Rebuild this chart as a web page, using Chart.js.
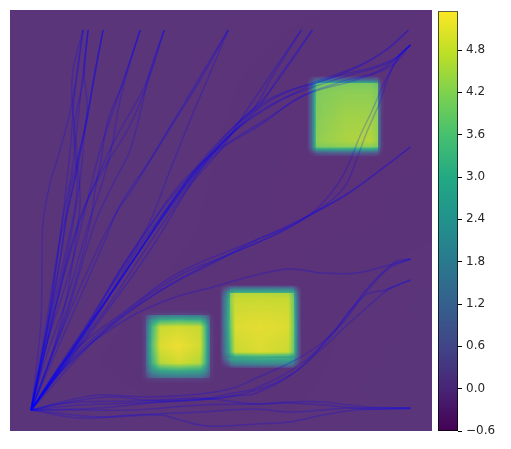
<!DOCTYPE html>
<html>
<head>
<meta charset="utf-8">
<title>Field and paths</title>
<script src="https://cdn.jsdelivr.net/npm/chart.js@4"></script>
<style>
    html, body { margin: 0; padding: 0; background: #fff; }
    #wrap { position: relative; width: 511px; height: 449px; overflow: hidden; }
    canvas { position: absolute; left: 0; top: 0; }
</style>
</head>
<body>
<div id="wrap">
    <canvas id="fieldChart" width="511" height="449"></canvas>
    <canvas id="barChart" width="511" height="449"></canvas>
</div>
<script>
// ==========================================
// 1. DATA
// ==========================================
const colorbarTicks = [-0.6, 0, 0.6, 1.2, 1.8, 2.4, 3.0, 3.6, 4.2, 4.8];
const colorMin = -0.6;
const colorMax = 5.35;

const viridis = [
    [68, 1, 84], [72, 36, 117], [65, 68, 135], [53, 95, 141], [42, 120, 142],
    [33, 145, 140], [34, 168, 132], [68, 191, 112], [122, 209, 81], [189, 223, 38], [253, 231, 37]
];

// background, coarse grid, rows from bottom to top
const bgXs = [0, 70, 140, 210, 280, 350, 421];
const bgYs = [0, 70, 140, 210, 280, 350, 421];
const bgField = [
    [0.06, 0.06, 0.04, 0.03, 0.03, 0.05, 0.06],
    [0.06, 0.03, 0.00, 0.00, 0.00, 0.04, 0.06],
    [0.06, 0.05, 0.02, 0.00, 0.00, 0.02, 0.05],
    [0.06, 0.06, 0.05, 0.01, 0.00, 0.00, 0.01],
    [0.06, 0.06, 0.06, 0.02, 0.00, 0.00, 0.00],
    [0.06, 0.06, 0.06, 0.03, 0.00, 0.00, 0.00],
    [0.06, 0.06, 0.06, 0.05, 0.03, 0.01, 0.00]
];

// lower left square
const squareAXs = [131, 135.9, 136, 142, 150, 168, 190, 195, 200, 200.1, 205];
const squareAYs = [48, 52.9, 53, 60, 68, 85, 104, 110, 116, 116.1, 121];
const squareA = [
    [0, 0, 0, 0, 0, 0, 0, 0, 0, 0, 0],
    [0, .1, .2, .3, .4, .4, .4, .3, .2, .1, 0],
    [0, .2, .3, 1.0, 1.3, 1.4, 1.3, 1.0, .3, .1, 0],
    [0, .4, 1.0, 2.2, 2.8, 3.0, 2.8, 2.2, 1.0, .3, 0],
    [0, .5, 1.2, 3.2, 4.6, 4.9, 4.6, 3.4, 1.2, .3, 0],
    [0, .5, 1.3, 3.6, 5.0, 5.2, 4.9, 3.6, 1.3, .4, 0],
    [0, .5, 1.2, 3.3, 4.8, 4.9, 4.8, 3.5, 1.2, .3, 0],
    [0, .4, 1.0, 2.6, 3.4, 3.6, 3.4, 2.6, 1.0, .3, 0],
    [0, .3, .4, 1.2, 1.5, 1.6, 1.5, 1.2, .4, .2, 0],
    [0, .1, .2, .3, .4, .5, .4, .3, .2, .1, 0],
    [0, 0, 0, 0, 0, 0, 0, 0, 0, 0, 0]
];

// middle square
const squareBXs = [210, 214, 219.9, 220, 225, 250, 278, 283.9, 284, 288, 291];
const squareBYs = [63, 67, 72.9, 73, 79, 105, 132, 137.9, 138, 142, 146];
const squareB = [
    [0, 0, .1, .2, .3, .4, .3, .2, .1, 0, 0],
    [0, .3, 1.0, 1.4, 1.8, 2.0, 2.0, 1.6, 1.0, .3, 0],
    [.1, 1.0, 2.6, 2.8, 3.0, 3.2, 3.2, 2.8, 2.2, .8, .1],
    [.1, 1.0, 2.0, 2.2, 2.6, 2.8, 2.6, 2.2, 2.4, .8, .1],
    [.1, 1.4, 3.2, 3.4, 4.8, 5.0, 4.8, 3.8, 3.2, 1.0, .1],
    [.1, 1.6, 3.6, 3.8, 5.0, 5.1, 5.0, 3.9, 3.3, 1.0, .1],
    [.1, 1.5, 3.4, 4.2, 4.8, 4.8, 4.8, 3.8, 3.0, .9, .1],
    [.1, 1.1, 3.0, 4.0, 4.6, 4.6, 4.5, 3.6, 2.6, .7, .1],
    [.1, 1.1, 2.8, 3.0, 3.3, 3.3, 3.3, 3.0, 2.6, .7, .1],
    [0, .6, 1.4, 1.8, 2.0, 2.0, 2.0, 1.8, 1.2, .4, 0],
    [0, 0, 0, 0, 0, 0, 0, 0, 0, 0, 0]
];

// upper right square
const squareCXs = [297, 301, 305.9, 306, 312, 335, 360, 367.9, 368, 371, 374];
const squareCYs = [274, 278, 283.9, 284, 290, 315, 340, 347.9, 348, 351, 355];
const squareC = [
    [0, 0, 0, 0, 0, 0, 0, 0, 0, 0, 0],
    [0, .2, .6, .8, .9, 1.0, .9, .8, .5, .1, 0],
    [.1, 1.0, 3.6, 3.8, 3.9, 3.9, 3.9, 3.6, 1.6, .3, 0],
    [.1, 1.0, 3.6, 4.0, 4.1, 4.2, 4.2, 4.0, 1.6, .3, 0],
    [.1, 1.1, 3.7, 4.2, 4.3, 4.5, 4.6, 4.3, 1.7, .3, 0],
    [.1, 1.1, 3.7, 4.1, 4.2, 4.4, 4.4, 4.2, 1.7, .3, 0],
    [.1, 1.1, 3.6, 4.0, 4.1, 4.2, 4.2, 4.0, 1.6, .3, 0],
    [.1, .9, 3.2, 3.6, 3.9, 4.0, 4.0, 3.7, 1.4, .2, 0],
    [.1, .8, 2.6, 2.8, 3.0, 3.0, 3.0, 2.6, 1.0, .2, 0],
    [0, .4, 1.2, 1.3, 1.4, 1.4, 1.3, 1.2, .5, .1, 0],
    [0, 0, 0, 0, 0, 0, 0, 0, 0, 0, 0]
];

// paths, flat x,y pairs, all end at the common start point
const pathsTop = [
    [73,401, 63,361, 62,331, 68,264, 70,231, 68,208, 56,131, 40,71, 21,21],
    [73,401, 62,328, 48,274, 40,248, 33,208, 32,171, 31,111, 26,61, 21,21],
    [73,401, 65,341, 60,281, 52,208, 40,121, 21,21],
    [78,401, 70,331, 62,261, 52,208, 38,111, 21,21],
    [78,401, 74,361, 77,321, 70,281, 60,231, 50,191, 35,101, 21,21],
    [78,401, 73,351, 64,301, 67,241, 56,181, 38,101, 21,21],
    [93,401, 78,321, 68,266, 58,221, 45,141, 21,21],
    [93,401, 82,341, 75,301, 70,251, 60,191, 42,111, 21,21],
    [93,401, 85,361, 77,311, 60,241, 50,171, 21,21],
    [130,401, 110,341, 100,311, 90,281, 75,221, 60,161, 35,81, 21,21],
    [130,401, 115,351, 108,321, 102,286, 93,251, 78,206, 58,136, 35,71, 21,21],
    [130,401, 112,346, 98,311, 90,266, 85,241, 80,208, 60,131, 21,21],
    [154,401, 140,356, 120,306, 90,256, 68,208, 45,121, 21,21],
    [154,401, 140,361, 133,331, 120,281, 105,251, 85,208, 55,111, 21,21],
    [154,401, 135,346, 110,301, 95,271, 72,216, 50,141, 21,21],
    [218,401, 190,351, 165,311, 140,271, 110,226, 95,191, 60,111, 21,21],
    [218,401, 197,351, 180,311, 160,261, 138,206, 110,161, 70,91, 21,21],
    [218,401, 185,346, 155,296, 125,246, 105,216, 80,166, 50,96, 21,21]
];
const pathsBand = [
    [291,401, 260,351, 246,326, 225,301, 190,261, 140,181, 90,111, 21,21],
    [291,401, 265,363, 240,326, 210,281, 180,246, 145,196, 95,121, 21,21],
    [302,401, 270,356, 246,321, 215,291, 180,251, 140,196, 90,121, 21,21],
    [302,401, 275,361, 252,331, 225,306, 190,266, 155,226, 110,161, 65,86, 21,21],
    [398,401, 375,381, 350,366, 310,351, 270,336, 246,321, 220,301, 180,256, 130,181, 80,106, 21,21],
    [398,401, 380,384, 355,368, 315,351, 275,339, 240,319, 205,281, 165,241, 115,166, 70,96, 21,21],
    [400,386, 385,373, 360,363, 330,356, 290,341, 246,316, 215,291, 175,246, 130,186, 75,96, 21,21],
    [400,386, 380,369, 340,356, 300,343, 260,326, 225,301, 190,266, 150,211, 100,136, 60,81, 21,21],
    [400,386, 382,366, 345,351, 295,336, 255,311, 230,296, 195,271, 160,226, 110,151, 21,21],
    [400,386, 370,361, 330,349, 290,334, 250,306, 210,281, 170,236, 120,166, 75,101, 21,21],
    [400,386, 389,376, 378,354, 369,328, 356,298, 346,271, 334,244, 312,224, 279,206, 246,191, 170,159, 123,126, 57,73, 21,21],
    [400,386, 390,376, 375,351, 362,321, 350,296, 340,271, 330,251, 315,231, 295,213, 270,199, 246,188, 190,163, 140,134, 90,96, 21,21]
];
const pathsRight = [
    [400,284, 370,261, 335,236, 300,216, 270,199, 246,188, 210,173, 170,156, 125,126, 60,71, 21,21],
    [400,284, 375,265, 340,239, 305,219, 275,203, 246,191, 205,169, 160,146, 115,116, 55,63, 21,21],
    [400,172, 379,166, 346,158, 313,158, 279,162, 246,156, 203,144, 157,131, 107,106, 57,66, 21,21],
    [400,172, 379,163, 359,143, 339,119, 319,93, 289,66, 246,43, 223,38, 190,32, 123,30, 57,28, 21,21],
    [400,172, 385,169, 360,146, 340,121, 315,91, 285,71, 246,53, 223,43, 190,37, 140,34, 90,36, 60,31, 21,21],
    [400,151, 375,141, 355,136, 335,111, 320,96, 290,63, 246,38, 223,35, 190,31, 123,28, 70,26, 21,21],
    [400,151, 380,143, 365,131, 340,109, 310,81, 280,56, 246,41, 210,33, 150,29, 90,23, 21,21],
    [400,23, 356,24, 313,29, 279,29, 246,27, 190,33, 140,31, 100,34, 60,29, 21,21],
    [400,23, 356,22, 313,26, 279,28, 246,27, 190,26, 123,21, 70,21, 21,21],
    [400,22, 346,21, 313,16, 279,9, 246,7, 197,5, 170,11, 150,16, 90,14, 21,21],
    [400,23, 340,23, 280,19, 246,22, 190,19, 120,16, 70,13, 21,21]
];

// ==========================================
// 2. FIELD LOOKUP AND COLOURS
// ==========================================
const squares = [
    { xs: squareAXs, ys: squareAYs, vals: squareA },
    { xs: squareBXs, ys: squareBYs, vals: squareB },
    { xs: squareCXs, ys: squareCYs, vals: squareC }
];

function bilinear(xs, ys, vals, x, y) {
    let i = 0, j = 0;
    while (i < xs.length - 2 && x > xs[i + 1]) i++;
    while (j < ys.length - 2 && y > ys[j + 1]) j++;
    const tx = (x - xs[i]) / (xs[i + 1] - xs[i]);
    const ty = (y - ys[j]) / (ys[j + 1] - ys[j]);
    const low = vals[j][i] * (1 - tx) + vals[j][i + 1] * tx;
    const high = vals[j + 1][i] * (1 - tx) + vals[j + 1][i + 1] * tx;
    return low * (1 - ty) + high * ty;
}

function fieldValue(x, y) {
    let v = bilinear(bgXs, bgYs, bgField, x, y);
    squares.forEach(s => {
        if (x >= s.xs[0] && x <= s.xs[s.xs.length - 1] && y >= s.ys[0] && y <= s.ys[s.ys.length - 1]) {
            v += bilinear(s.xs, s.ys, s.vals, x, y);
        }
    });
    return v;
}

function viridisAt(t) {
    const p = Math.min(Math.max(t, 0), 1) * (viridis.length - 1);
    const i = Math.min(Math.floor(p), viridis.length - 2);
    const f = p - i;
    return viridis[i].map((c, k) => c + (viridis[i + 1][k] - c) * f);
}

// the field is see-through in the original, so it gets mixed with a pale tone
const fieldAlpha = 0.89;
const fieldUnder = [250, 165, 150];

const fieldPlugin = {
    id: 'fieldImage',
    beforeDatasetsDraw(chart) {
        const { ctx, chartArea, scales } = chart;
        const left = Math.round(chartArea.left), top = Math.round(chartArea.top);
        const w = Math.round(chartArea.right) - left, h = Math.round(chartArea.bottom) - top;
        const img = ctx.createImageData(w, h);
        for (let py = 0; py < h; py++) {
            const y = scales.y.getValueForPixel(top + py + 0.5);
            for (let px = 0; px < w; px++) {
                const x = scales.x.getValueForPixel(left + px + 0.5);
                const c = viridisAt((fieldValue(x, y) - colorMin) / (colorMax - colorMin));
                const n = (py * w + px) * 4;
                img.data[n] = c[0] * fieldAlpha + fieldUnder[0] * (1 - fieldAlpha);
                img.data[n + 1] = c[1] * fieldAlpha + fieldUnder[1] * (1 - fieldAlpha);
                img.data[n + 2] = c[2] * fieldAlpha + fieldUnder[2] * (1 - fieldAlpha);
                img.data[n + 3] = 255;
            }
        }
        ctx.putImageData(img, left, top);
    }
};

// ==========================================
// 3. CHARTS
// ==========================================
function toPoints(flat) {
    const pts = [];
    for (let i = 0; i < flat.length; i += 2) pts.push({ x: flat[i], y: flat[i + 1] });
    return pts;
}

const allPaths = pathsTop.concat(pathsBand, pathsRight);

new Chart(document.getElementById('fieldChart'), {
    type: 'scatter',
    data: {
        datasets: allPaths.map(p => ({
            data: toPoints(p),
            showLine: true,
            borderColor: 'rgba(0, 0, 255, 0.22)',
            borderWidth: 1.5,
            tension: 0.4,
            pointRadius: 0
        }))
    },
    options: {
        responsive: false,
        animation: false,
        layout: { padding: { left: 10, top: 10, right: 79.5, bottom: 18 } },
        plugins: { legend: { display: false }, tooltip: { enabled: false } },
        scales: {
            x: { type: 'linear', display: false, min: 0, max: 421 },
            y: { type: 'linear', display: false, min: 0, max: 421 }
        }
    },
    plugins: [fieldPlugin]
});

new Chart(document.getElementById('barChart'), {
    type: 'bar',
    data: {
        labels: ['field'],
        datasets: [{
            data: [[colorMin, colorMax]],
            barPercentage: 1,
            categoryPercentage: 1,
            borderColor: '#000',
            borderWidth: 1,
            borderSkipped: false,
            backgroundColor(context) {
                const area = context.chart.chartArea;
                if (!area) return '#000';
                const g = context.chart.ctx.createLinearGradient(0, area.bottom, 0, area.top);
                viridis.forEach((c, i) => g.addColorStop(i / (viridis.length - 1), `rgb(${c[0]},${c[1]},${c[2]})`));
                return g;
            }
        }]
    },
    options: {
        responsive: false,
        animation: false,
        layout: { padding: { left: 438, top: 10, right: 8, bottom: 18 } },
        plugins: { legend: { display: false }, tooltip: { enabled: false } },
        scales: {
            x: { display: false },
            y: {
                position: 'right',
                min: colorMin,
                max: colorMax,
                afterBuildTicks(scale) { scale.ticks = colorbarTicks.map(v => ({ value: v })); },
                afterFit(scale) { scale.width = 45; },
                border: { display: false },
                grid: { drawOnChartArea: false, color: '#000', tickColor: '#000', tickLength: 4 },
                ticks: {
                    color: '#262626',
                    padding: 4,
                    autoSkip: false,
                    font: { family: 'DejaVu Sans', size: 12 },
                    callback: v => v.toFixed(1).replace('-', '\u2212')
                }
            }
        }
    }
});
</script>
</body>
</html>
